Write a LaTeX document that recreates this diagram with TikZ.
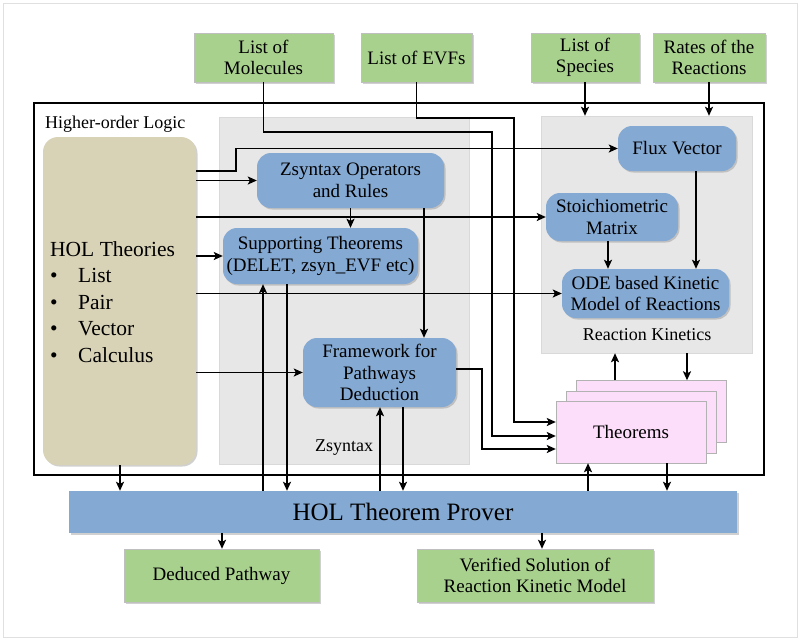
\documentclass[tikz,border=0pt]{standalone}
\usepackage{fontspec}
\setmainfont{Liberation Serif}
\usetikzlibrary{arrows.meta,shadows}
\definecolor{boxgreen}{RGB}{169,209,142}
\definecolor{boxblue}{RGB}{132,169,211}
\definecolor{boxtan}{RGB}{216,210,182}
\definecolor{panelgray}{RGB}{231,231,231}
\definecolor{thmpink}{RGB}{252,221,250}
\newcommand{\bfnt}{\fontsize{19}{21.5}\selectfont}
\newcommand{\lfnt}{\fontsize{18}{20}\selectfont}
\begin{document}
\begin{tikzpicture}[x=1pt,y=-1pt,
  every node/.style={inner sep=0pt,align=center,font=\bfnt},
  sh/.style={drop shadow={shadow xshift=1.5pt,shadow yshift=-1.5pt,opacity=0.3,fill=black!60}},
  inbox/.style={rectangle,fill=boxgreen,draw=black!25,sh},
  opbox/.style={rectangle,rounded corners=14pt,fill=boxblue,sh},
  panel/.style={rectangle,fill=panelgray,draw=black!15},
  thmbox/.style={rectangle,fill=thmpink,draw=black!30,minimum width=150pt,minimum height=62pt},
  arr/.style={-{Stealth[length=9pt,width=8pt,inset=2pt]},line width=1.5pt}]
\useasboundingbox (0,0) rectangle (800,640);
\fill[white] (0,0) rectangle (800,640);
\draw[black!12] (3,3) rectangle (797,637);
\node[inbox,minimum width=139pt,minimum height=49pt] (mol) at (263.5,57.5) {List of\\Molecules};
\node[inbox,minimum width=111pt,minimum height=49pt] (evf) at (416.5,57.5) {List of EVFs};
\node[inbox,minimum width=108pt,minimum height=49pt] (spec) at (585,57.5) {List of\\Species};
\node[inbox,minimum width=112pt,minimum height=49pt] (rate) at (709,57.5) {Rates of the\\Reactions};
\draw[line width=2.5pt] (34,103) rectangle (764,475);
\node[anchor=west,font=\lfnt] (hol) at (45,124) {Higher-order Logic};
\node[panel,minimum width=250pt,minimum height=347pt] (zpanel) at (344,290.5) {};
\node[panel,minimum width=211pt,minimum height=237pt] (rkpanel) at (646.5,234.5) {};
\node[font=\lfnt] (zlab) at (344,448) {Zsyntax};
\node[font=\lfnt] (rklab) at (647,335) {Reaction Kinetics};
\node[rectangle,rounded corners=15pt,fill=boxtan,sh,minimum width=153pt,minimum height=328pt] (tan) at (119.5,301) {};
\node[anchor=base west,font=\fontsize{21.5}{26.5}\selectfont] (theo) at (50,256)
  {\begin{tabular}[t]{@{}l@{}}HOL Theories\\
   \makebox[28pt][l]{\textbullet}List\\
   \makebox[28pt][l]{\textbullet}Pair\\
   \makebox[28pt][l]{\textbullet}Vector\\
   \makebox[28pt][l]{\textbullet}Calculus\end{tabular}};
\node[opbox,minimum width=187pt,minimum height=55pt] (zops) at (350.5,180.5) {Zsyntax Operators\\and Rules};
\node[opbox,minimum width=195pt,minimum height=56pt] (supp) at (320.5,256) {Supporting Theorems\\(DELET, zsyn\_EVF etc)};
\node[opbox,minimum width=153pt,minimum height=69pt] (frame) at (379.5,372.5) {Framework for\\Pathways\\Deduction};
\node[opbox,minimum width=118pt,minimum height=45pt] (flux) at (677,148.5) {Flux Vector};
\node[opbox,minimum width=132pt,minimum height=48pt] (stoi) at (612,217) {Stoichiometric\\Matrix};
\node[opbox,minimum width=167pt,minimum height=49pt] (ode) at (645.5,293.5) {ODE based Kinetic\\Model of Reactions};
\node[thmbox] (thmb) at (651,411.5) {};
\node[thmbox] (thmm) at (641,422) {};
\node[thmbox] (thm) at (631,432) {Theorems};
\node[rectangle,fill=boxblue,sh,minimum width=668pt,minimum height=42pt,font=\fontsize{25}{28}\selectfont] (prover) at (403,512) {HOL Theorem Prover};
\node[inbox,minimum width=195pt,minimum height=53pt] (ded) at (221.5,575.5) {Deduced Pathway};
\node[inbox,minimum width=236pt,minimum height=53pt] (ver) at (535,575.5) {Verified Solution of\\Reaction Kinetic Model};
\draw[arr] (mol.south) |- (492,132) |- (thm.west |- 0,436);
\draw[arr] (evf.south) |- (514,118) |- (thm.west |- 0,422);
\draw[arr] (frame.east |- 0,369) -| (482,449) -- (thm.west |- 0,449);
\draw[arr] (tan.east |- 0,171) -- (236,171) |- (flux.west);
\draw[arr] (tan.east |- zops.west) -- (zops.west);
\draw[arr] (tan.east |- stoi.west) -- (stoi.west);
\draw[arr] (tan.east |- supp.west) -- (supp.west);
\draw[arr] (tan.east |- ode.west) -- (ode.west);
\draw[arr] (tan.east |- frame.west) -- (frame.west);
\draw[arr] (zops.south) -- (zops.south |- supp.north);
\draw[arr] (424,0 |- zops.south) -- (424,0 |- frame.north);
\draw[arr] (263,0 |- prover.north) -- (263,0 |- supp.south);
\draw[arr] (287,0 |- supp.south) -- (287,0 |- prover.north);
\draw[arr] (380,0 |- prover.north) -- (380,0 |- frame.south);
\draw[arr] (403,0 |- frame.south) -- (403,0 |- prover.north);
\draw[arr] (spec.south) -- (spec.south |- rkpanel.north);
\draw[arr] (rate.south) -- (rate.south |- rkpanel.north);
\draw[arr] (608,0 |- stoi.south) -- (608,0 |- ode.north);
\draw[arr] (696,0 |- flux.south) -- (696,0 |- ode.north);
\draw[arr] (615,0 |- thmb.north) -- (615,0 |- rkpanel.south);
\draw[arr] (687,0 |- rkpanel.south) -- (687,0 |- thmb.north);
\draw[arr] (588,0 |- prover.north) -- (588,0 |- thm.south);
\draw[arr] (667,0 |- thm.south) -- (667,0 |- prover.north);
\draw[arr] (120,0 |- tan.south) -- (120,0 |- prover.north);
\draw[arr] (222,0 |- prover.south) -- (222,0 |- ded.north);
\draw[arr] (542,0 |- prover.south) -- (542,0 |- ver.north);
\end{tikzpicture}
\end{document}
